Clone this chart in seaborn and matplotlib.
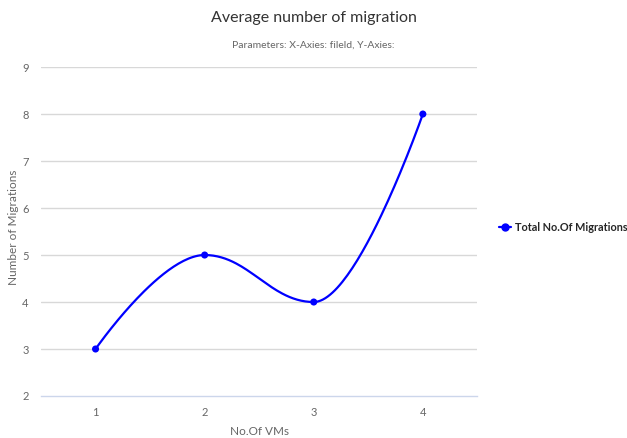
import numpy as np
import pandas as pd
import matplotlib
matplotlib.use('Agg')
import matplotlib.pyplot as plt
import seaborn as sns

# chart data
vms = ['1', '2', '3', '4']
migrations = [3, 5, 4, 8]
series_name = 'Total No.Of Migrations'


# Highcharts-style spline: cubic bezier with smoothing 1.5
def spline_path(xs, ys, smoothing=1.5, steps=60):
    denom = smoothing + 1
    n = len(xs)
    right = [None] * n
    left = [None] * n
    for i in range(1, n - 1):
        px, py = xs[i], ys[i]
        lx, ly = xs[i - 1], ys[i - 1]
        nx, ny = xs[i + 1], ys[i + 1]
        lcx = (smoothing * px + lx) / denom
        lcy = (smoothing * py + ly) / denom
        rcx = (smoothing * px + nx) / denom
        rcy = (smoothing * py + ny) / denom
        corr = 0
        if rcx != lcx:
            corr = (rcy - lcy) * (rcx - px) / (rcx - lcx) + py - rcy
        lcy += corr
        rcy += corr
        if lcy > ly and lcy > py:
            lcy = max(ly, py)
            rcy = 2 * py - lcy
        elif lcy < ly and lcy < py:
            lcy = min(ly, py)
            rcy = 2 * py - lcy
        if rcy > ny and rcy > py:
            rcy = max(ny, py)
            lcy = 2 * py - rcy
        elif rcy < ny and rcy < py:
            rcy = min(ny, py)
            lcy = 2 * py - rcy
        left[i] = (lcx, lcy)
        right[i] = (rcx, rcy)
    t = np.linspace(0, 1, steps)
    out_x, out_y = [], []
    for i in range(1, n):
        p0 = (xs[i - 1], ys[i - 1])
        p3 = (xs[i], ys[i])
        p1 = right[i - 1] or p0
        p2 = left[i] or p3
        bx = (1 - t) ** 3 * p0[0] + 3 * (1 - t) ** 2 * t * p1[0] + 3 * (1 - t) * t ** 2 * p2[0] + t ** 3 * p3[0]
        by = (1 - t) ** 3 * p0[1] + 3 * (1 - t) ** 2 * t * p1[1] + 3 * (1 - t) * t ** 2 * p2[1] + t ** 3 * p3[1]
        out_x.extend(bx)
        out_y.extend(by)
    return np.array(out_x), np.array(out_y)


sns.set_style('white')
plt.rcParams['font.family'] = ['Lato', 'DejaVu Sans']

fig = plt.figure(figsize=(6.27, 4.38), dpi=100)
ax = fig.add_axes([0.0654, 0.0959, 0.696, 0.751])

xpos = np.arange(len(vms))
cx, cy = spline_path(list(xpos), migrations)
curve = pd.DataFrame({'x': cx, 'y': cy})
sns.lineplot(data=curve, x='x', y='y', ax=ax, color='#0000ff', linewidth=1.6, sort=False)
pts = pd.DataFrame({'x': xpos, 'y': migrations})
sns.scatterplot(data=pts, x='x', y='y', ax=ax, color='#0000ff', s=26, edgecolor='none', zorder=5)

ax.set_xlim(-0.5, len(vms) - 0.5)
ax.set_ylim(2, 9)
ax.set_yticks(range(2, 10))
ax.set_yticklabels([str(v) for v in range(2, 10)], color='#666666', fontsize=8)
ax.set_xticks(xpos)
ax.set_xticklabels(vms, color='#666666', fontsize=8)
ax.tick_params(axis='x', length=0, pad=8)
ax.tick_params(axis='y', length=0, pad=9)
ax.set_xticks(np.arange(-0.5, len(vms)), minor=True)
ax.tick_params(axis='x', which='minor', length=9, color='#ccd6eb', width=1)

for v in range(3, 10):
    ax.axhline(v, color='#d8d8d8', linewidth=1, zorder=0)
for s in ['top', 'right', 'left']:
    ax.spines[s].set_visible(False)
ax.spines['bottom'].set_color('#ccd6eb')
ax.spines['bottom'].set_linewidth(1)

ax.set_xlabel('No.Of VMs', color='#666666', fontsize=8.5, labelpad=6)
ax.set_ylabel('')
fig.text(0.021, 0.48, 'Number of Migrations', rotation=90, ha='center', va='center',
         color='#666666', fontsize=8.5)

fig.text(0.5, 0.958, 'Average number of migration', ha='center', va='center',
         fontsize=11.5, color='#333333')
fig.text(0.5, 0.897, 'Parameters: X-Axies: fileld, Y-Axies:', ha='center', va='center',
         fontsize=7.5, color='#666666')

# legend
handle = plt.Line2D([], [], color='#0000ff', marker='o', markersize=5, linewidth=1.6)
fig.legend([handle], [series_name], loc='center left', bbox_to_anchor=(0.796, 0.48),
           frameon=False, handlelength=1.1, handletextpad=0.4, borderaxespad=0,
           borderpad=0, prop={'weight': 'bold', 'size': 7.8})

fig.savefig('out.png', dpi=100)
